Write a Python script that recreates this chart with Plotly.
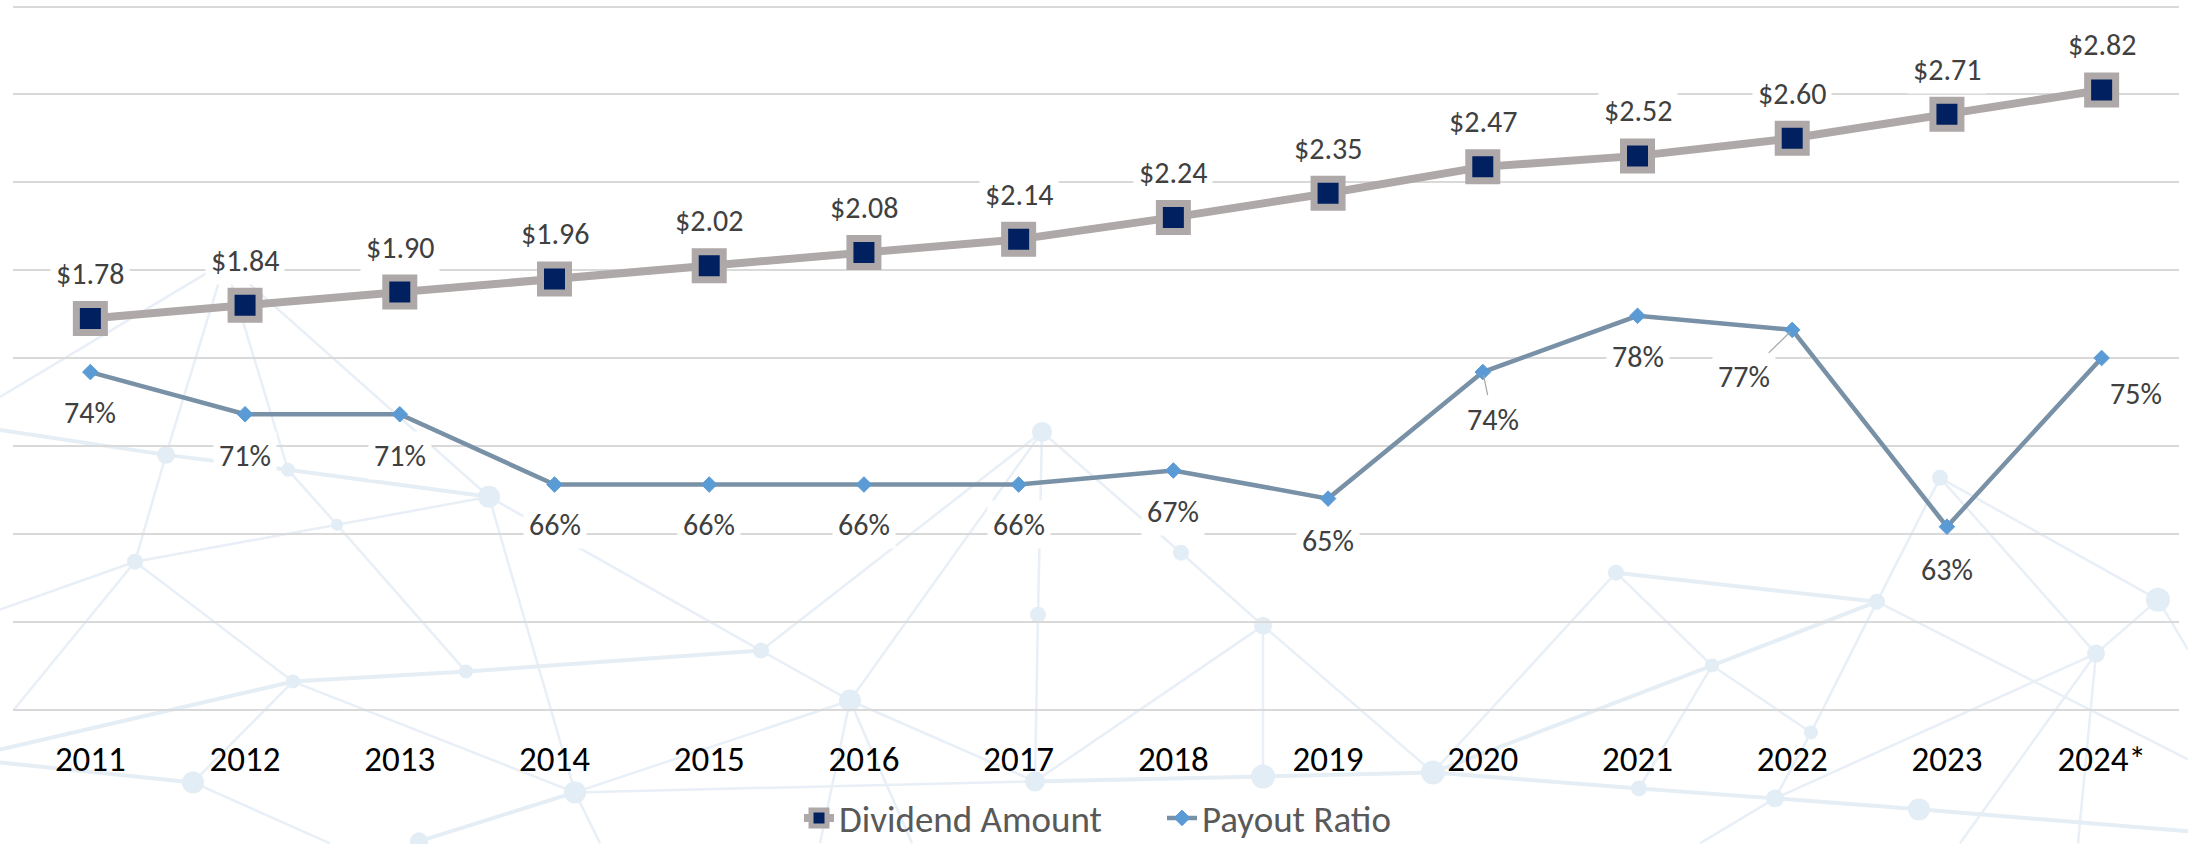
import plotly.graph_objects as go

# ---------------- data ----------------
years = ['2011', '2012', '2013', '2014', '2015', '2016', '2017',
         '2018', '2019', '2020', '2021', '2022', '2023', '2024*']
dividend = [1.78, 1.84, 1.90, 1.96, 2.02, 2.08, 2.14,
            2.24, 2.35, 2.47, 2.52, 2.60, 2.71, 2.82]
payout = [74, 71, 71, 66, 66, 66, 66, 67, 65, 74, 78, 77, 63, 75]

dividend_labels = ['${:.2f}'.format(v) for v in dividend]
payout_labels = ['{}%'.format(v) for v in payout]

# label placement (pixel offsets of payout labels relative to their points)
payout_dx = [0, 0, 0, 0, 0, 0, 0, 0, 0, 10, 0, -48, 0, 34]
payout_dy = [40, 41, 41, 40, 40, 40, 40, 41, 42, 47, 41, 47, 43, 35]
payout_leader = [False] * 9 + [True, False, True, False, False]

FONT = 'Carlito, Lato, "Liberation Sans Narrow", sans-serif'
LABEL_SIZE = 30

# ---------------- plot geometry (pixels) ----------------
W, H = 2188, 844
PL, PR, PT, PB = 13, 2179, 4.5, 711.5
Y_PAD = 0.00682      # small range padding so edge gridlines are kept
Y2_PAD = 0.107


def px(x):
    return (x - PL) / (PR - PL)


def py(y):
    return (PB - y) / (PB - PT)


fig = go.Figure()

# ---------------- decorative background network ----------------
nodes = {
    'A': (166, 455, 9), 'B': (288, 470, 7), 'C': (337, 525, 6), 'D': (135, 562, 8),
    'E': (489, 497, 11), 'F': (293, 682, 7), 'G': (466, 672, 7), 'H': (761, 651, 8),
    'I': (850, 701, 11), 'J': (1042, 432, 10), 'K': (1038, 615, 8), 'L': (1181, 553, 8),
    'M': (1263, 626, 9), 'N': (1035, 782, 10), 'O': (1263, 777, 12), 'P': (1433, 773, 12),
    'Q': (1616, 573, 8), 'R': (1712, 666, 7), 'S': (1811, 733, 7), 'T': (1877, 602, 8),
    'U': (1940, 478, 8), 'V': (2096, 654, 9), 'W': (2158, 600, 12), 'X': (1639, 789, 8),
    'Y': (1775, 799, 9), 'Z': (1919, 810, 11), 'a': (575, 793, 11), 'b': (193, 783, 11),
    'c': (419, 842, 9), 'h': (225, 262, 0),
    'e1': (0, 397, 0), 'e2': (0, 430, 0), 'e3': (14, 710, 0), 'e4': (0, 610, 0),
    'e5': (0, 750, 0), 'e6': (0, 763, 0), 'e7': (820, 844, 0), 'e8': (912, 844, 0),
    'e9': (2078, 844, 0), 'e10': (2188, 650, 0), 'e11': (2188, 832, 0),
    'e12': (2188, 760, 0), 'e13': (1700, 844, 0), 'e14': (1960, 844, 0),
    'e15': (330, 844, 0), 'e16': (600, 844, 0),
}
thin_edges = [('h', 'A'), ('h', 'B'), ('h', 'E'), ('h', 'e1'), ('A', 'D'), ('D', 'e3'),
              ('D', 'C'), ('C', 'E'), ('D', 'e4'), ('B', 'C'), ('C', 'G'), ('D', 'F'),
              ('E', 'a'), ('F', 'a'), ('b', 'F'), ('E', 'H'), ('H', 'J'), ('H', 'I'),
              ('I', 'J'), ('J', 'K'), ('K', 'N'), ('I', 'N'), ('I', 'a'), ('I', 'e7'),
              ('I', 'e8'), ('J', 'L'), ('L', 'M'), ('M', 'O'), ('M', 'N'), ('M', 'P'),
              ('P', 'Q'), ('Q', 'R'), ('R', 'S'), ('R', 'X'), ('T', 'S'), ('U', 'T'),
              ('U', 'V'), ('U', 'W'), ('W', 'V'), ('V', 'Y'), ('V', 'e9'), ('W', 'e10'),
              ('S', 'Y'), ('T', 'e12'), ('Y', 'e13'), ('V', 'e14'), ('b', 'e15'),
              ('a', 'e16'), ('N', 'a')]
thick_edges = [('e2', 'A'), ('A', 'B'), ('B', 'E'), ('e5', 'F'), ('F', 'G'), ('G', 'H'),
               ('e6', 'b'), ('Q', 'T'), ('P', 'R'), ('R', 'T'), ('N', 'O'), ('O', 'P'),
               ('P', 'X'), ('X', 'Y'), ('Y', 'Z'), ('Z', 'e11'), ('c', 'a')]

shapes = []
for e, w, col in [(thin_edges, 2.5, '#E8EFF6'), (thick_edges, 4, '#E6EEF5')]:
    for n1, n2 in e:
        x1, y1, _ = nodes[n1]
        x2, y2, _ = nodes[n2]
        shapes.append(dict(type='line', xref='paper', yref='paper', layer='below',
                           x0=px(x1), y0=py(y1), x1=px(x2), y1=py(y2),
                           line=dict(color=col, width=w)))
for k, (x, y, r) in nodes.items():
    if r > 0:
        shapes.append(dict(type='circle', xref='paper', yref='paper', layer='below',
                           x0=px(x - r), x1=px(x + r), y0=py(y + r), y1=py(y - r),
                           fillcolor='#E3EDF5', line=dict(width=0)))

# ---------------- traces ----------------
fig.add_trace(go.Scatter(
    x=years, y=dividend, name='Dividend Amount', mode='lines+markers',
    line=dict(color='#AEA8A8', width=8),
    marker=dict(symbol='square', size=28, color='#002060',
                line=dict(color='#AEA8A8', width=7)),
    yaxis='y', hoverinfo='skip'))

fig.add_trace(go.Scatter(
    x=years, y=payout, name='Payout Ratio', mode='lines+markers',
    line=dict(color='#7891A6', width=4.5),
    marker=dict(symbol='diamond', size=12, color='#5B9BD5',
                line=dict(color='#5B9BD5', width=1)),
    yaxis='y2', hoverinfo='skip'))

# ---------------- data labels ----------------
label_font = dict(family=FONT, size=LABEL_SIZE, color='#404040')
annotations = []
for i, (v, t) in enumerate(zip(dividend, dividend_labels)):
    annotations.append(dict(x=i, y=v, xref='x', yref='y', text=t, showarrow=False,
                            yshift=45, xanchor='center', yanchor='middle',
                            bgcolor='white', borderpad=5, font=label_font))
for i, (v, t, dx, dy, ld) in enumerate(zip(payout, payout_labels, payout_dx,
                                            payout_dy, payout_leader)):
    if ld:
        annotations.append(dict(x=i, y=v, xref='x', yref='y2', text=t, showarrow=True,
                                ax=dx, ay=dy, arrowhead=0, arrowwidth=1.2,
                                arrowcolor='#A6A6A6', standoff=3,
                                bgcolor='white', borderpad=5, font=label_font))
    else:
        annotations.append(dict(x=i, y=v, xref='x', yref='y2', text=t, showarrow=False,
                                xshift=dx, yshift=-dy, xanchor='center', yanchor='middle',
                                bgcolor='white', borderpad=5, font=label_font))

fig.update_layout(
    width=W, height=H,
    margin=dict(l=PL, r=W - PR, t=PT, b=H - PB, pad=0, autoexpand=False),
    paper_bgcolor='white', plot_bgcolor='rgba(0,0,0,0)',
    font=dict(family=FONT),
    showlegend=True,
    legend=dict(orientation='h', x=0.5 + 66 / (PR - PL), xanchor='center',
                y=py(819), yanchor='middle',
                font=dict(family=FONT, size=37, color='#595959'),
                bgcolor='rgba(0,0,0,0)', itemwidth=30, entrywidth=318,
                tracegroupgap=0),
    xaxis=dict(type='category', showgrid=False, showline=False, zeroline=False,
               ticks='outside', ticklen=17, tickcolor='rgba(0,0,0,0)',
               tickfont=dict(family=FONT, size=35, color='#000000'),
               range=[-0.5, len(years) - 0.5], automargin=False),
    yaxis=dict(range=[0 - Y_PAD, 3.2 + Y_PAD], dtick=0.4, tick0=0, showticklabels=False,
               showgrid=True, gridcolor='#D9D9D9', gridwidth=2, zeroline=False,
               showline=False, automargin=False),
    yaxis2=dict(range=[50 - Y2_PAD, 100 + Y2_PAD], overlaying='y', side='right',
                showgrid=False, showticklabels=False, zeroline=False, showline=False,
                automargin=False),
    shapes=shapes,
    annotations=annotations,
)

fig.write_html('out.html', config={'displayModeBar': False},
               post_script="document.body.style.margin='0';"
                           "document.body.style.padding='0';")
